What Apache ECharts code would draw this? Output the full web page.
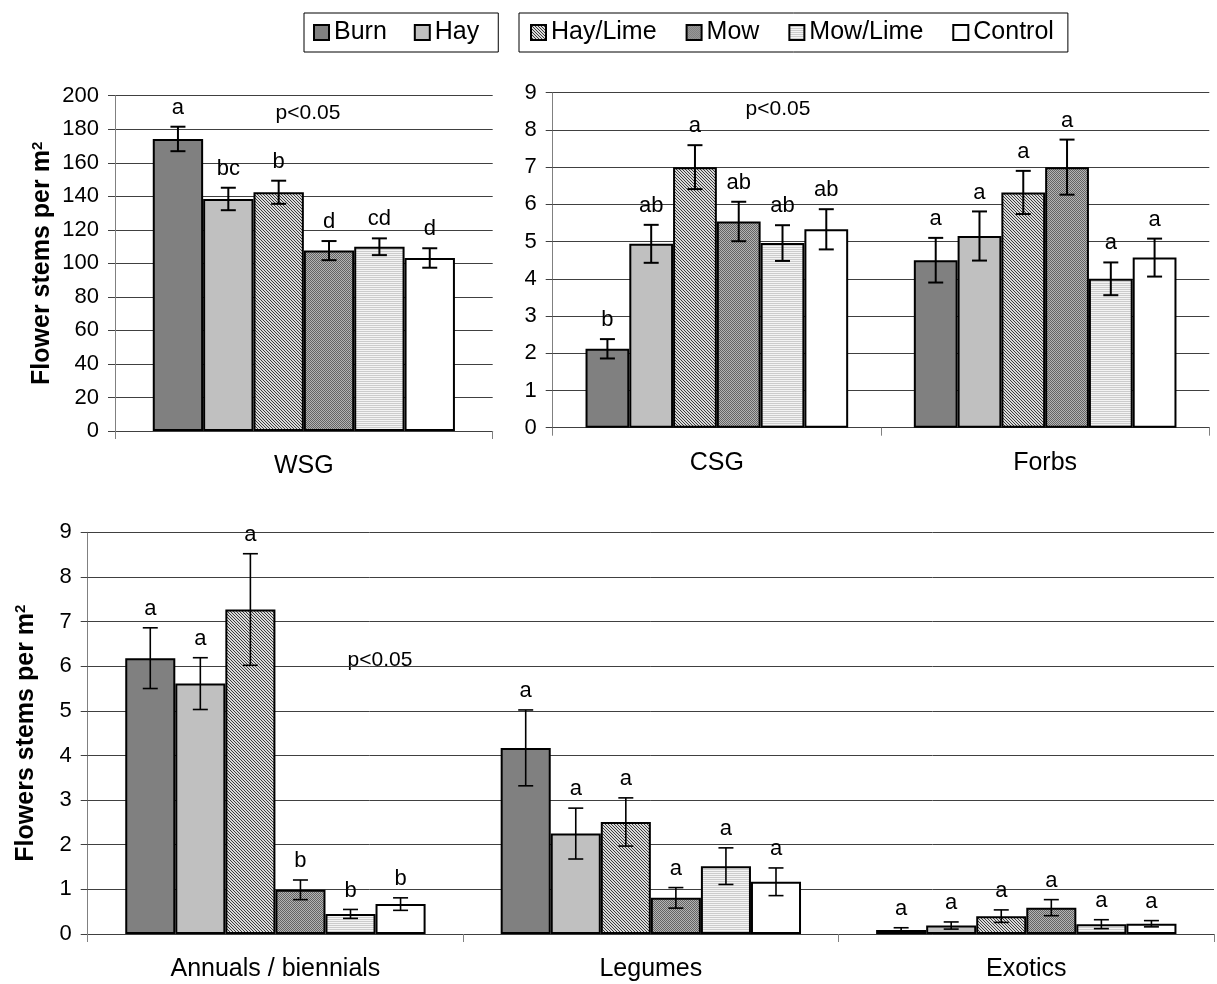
<!DOCTYPE html>
<html>
<head>
<meta charset="utf-8">
<script src="https://cdn.jsdelivr.net/npm/echarts@6/dist/echarts.min.js"></script>
<style>
html,body{margin:0;padding:0;background:#fff;}
#chart{width:1217px;height:984px;}
</style>
</head>
<body>
<div id="chart"></div>
<script>
// ---------- data ----------
const seriesNames = ['Burn', 'Hay', 'Hay/Lime', 'Mow', 'Mow/Lime', 'Control'];

const wsgCategories = ['WSG'];
const wsgMeans   = [174.2, 138.4, 142.4, 107.6, 109.9, 103.2];
const wsgErrors  = [7.3, 6.7, 6.9, 5.7, 5.0, 5.8];
const wsgLetters = ['a', 'bc', 'b', 'd', 'cd', 'd'];

const grassForbCategories = ['CSG', 'Forbs'];
const csgMeans    = [2.12, 4.94, 7.00, 5.54, 4.96, 5.33];
const csgErrors   = [0.26, 0.51, 0.59, 0.53, 0.48, 0.54];
const csgLetters  = ['b', 'ab', 'a', 'ab', 'ab', 'ab'];
const forbsMeans  = [4.50, 5.15, 6.32, 7.00, 4.00, 4.57];
const forbsErrors = [0.60, 0.66, 0.58, 0.74, 0.44, 0.51];
const forbsLetters = ['a', 'a', 'a', 'a', 'a', 'a'];

const lifeFormCategories = ['Annuals / biennials', 'Legumes', 'Exotics'];
const annualsMeans   = [6.18, 5.61, 7.27, 0.99, 0.45, 0.67];
const annualsErrors  = [0.68, 0.58, 1.25, 0.22, 0.10, 0.14];
const annualsLetters = ['a', 'a', 'a', 'b', 'b', 'b'];
const legumesMeans   = [4.17, 2.25, 2.51, 0.81, 1.52, 1.17];
const legumesErrors  = [0.85, 0.57, 0.54, 0.23, 0.41, 0.31];
const legumesLetters = ['a', 'a', 'a', 'a', 'a', 'a'];
const exoticsMeans   = [0.09, 0.19, 0.40, 0.59, 0.22, 0.23];
const exoticsErrors  = [0.05, 0.08, 0.14, 0.18, 0.10, 0.07];
const exoticsLetters = ['a', 'a', 'a', 'a', 'a', 'a'];

const wsgAxisRange   = [0, 200, 20];   // min, max, interval
const countAxisRange = [0, 9, 1];

const yTitleTop    = 'Flower stems per m';
const yTitleBottom = 'Flowers stems per m';
const pText = 'p<0.05';

// ---------- styles ----------
const FONT = '"Liberation Sans", Arial, sans-serif';

function makePattern(w, h, bg, dark, pixels) {
  const c = document.createElement('canvas');
  c.width = w; c.height = h;
  const g = c.getContext('2d');
  g.fillStyle = bg; g.fillRect(0, 0, w, h);
  g.fillStyle = dark;
  pixels.forEach(p => g.fillRect(p[0], p[1], 1, 1));
  return { image: c, repeat: 'repeat' };
}
const fills = [
  '#808080',
  '#c0c0c0',
  makePattern(3, 3, '#dadada', '#3c3c3c', [[0,0],[1,1],[2,2]]),
  makePattern(2, 2, '#b4b4b4', '#646464', [[0,0],[1,1]]),
  makePattern(2, 2, '#f4f4f4', '#cccccc', [[0,1],[1,1]]),
  '#ffffff'
];

const panels = [
  { cats: wsgCategories, means: [wsgMeans], errs: [wsgErrors], letters: [wsgLetters],
    range: wsgAxisRange, grid: { left: 115, top: 95.7, width: 377.7, height: 335.3 },
    name: yTitleTop, nameGap: 60, errWidth: 2 },
  { cats: grassForbCategories, means: [csgMeans, forbsMeans], errs: [csgErrors, forbsErrors],
    letters: [csgLetters, forbsLetters],
    range: countAxisRange, grid: { left: 552.7, top: 92.7, width: 656.6, height: 335 },
    name: null, nameGap: 0, errWidth: 2 },
  { cats: lifeFormCategories, means: [annualsMeans, legumesMeans, exoticsMeans],
    errs: [annualsErrors, legumesErrors, exoticsErrors],
    letters: [annualsLetters, legumesLetters, exoticsLetters],
    range: countAxisRange, grid: { left: 87.7, top: 532.3, width: 1126.3, height: 401.7 },
    name: yTitleBottom, nameGap: 49, errWidth: 1.6 }
];

const grids = [], xAxes = [], yAxes = [], series = [];

panels.forEach((p, gi) => {
  grids.push(Object.assign({ containLabel: false }, p.grid));
  xAxes.push({
    type: 'category', gridIndex: gi, data: p.cats,
    axisLine: { show: true, lineStyle: { color: '#404040', width: 1 } },
    axisTick: { show: true, length: 8, lineStyle: { color: '#808080' } },
    axisLabel: { color: '#000', fontSize: 25, fontFamily: FONT, margin: 23 },
    splitLine: { show: false }
  });
  const y = {
    type: 'value', gridIndex: gi, min: p.range[0], max: p.range[1], interval: p.range[2],
    axisLine: { show: true, lineStyle: { color: '#808080', width: 1 } },
    axisTick: { show: true, length: 7, lineStyle: { color: '#404040' } },
    axisLabel: { color: '#000', fontSize: 22, fontFamily: FONT, margin: 16 },
    splitLine: { show: true, lineStyle: { color: '#404040', width: 1 } }
  };
  if (p.name) {
    y.name = '{t|' + p.name + '}{s|2}';
    y.nameLocation = 'middle';
    y.nameGap = p.nameGap;
    y.nameTextStyle = {
      rich: {
        t: { fontSize: 25, fontWeight: 'bold', fontFamily: FONT, color: '#000' },
        s: { fontSize: 15, fontWeight: 'bold', fontFamily: FONT, color: '#000', verticalAlign: 'top' }
      }
    };
  }
  yAxes.push(y);

  seriesNames.forEach((sn, si) => {
    series.push({
      type: 'bar', name: sn, xAxisIndex: gi, yAxisIndex: gi,
      barGap: '0%', barCategoryGap: '20%',
      data: p.means.map(arr => arr[si]),
      itemStyle: { color: fills[si], borderColor: '#000', borderWidth: 2 },
      emphasis: { disabled: true },
      animation: false
    });
  });

  const errData = [], letterFlat = [];
  p.means.forEach((arr, ci) => {
    arr.forEach((m, si) => {
      errData.push([ci, si, m, p.errs[ci][si]]);
      letterFlat.push(p.letters[ci][si]);
    });
  });
  const lw = p.errWidth;
  series.push({
    type: 'custom', name: 'err' + gi, xAxisIndex: gi, yAxisIndex: gi,
    data: errData, encode: { x: 0, y: 2 }, z: 10, animation: false, silent: true,
    renderItem: function (params, api) {
      const ci = api.value(0), si = api.value(1), m = api.value(2), e = api.value(3);
      const catW = api.size([1, 0])[0];
      const barW = catW * 0.8 / seriesNames.length;
      const x = api.coord([ci, m])[0] + (si - (seriesNames.length - 1) / 2) * barW;
      const top = api.coord([ci, m + e])[1];
      const bot = api.coord([ci, m - e])[1];
      const cap = 7.5;
      const st = { stroke: '#000', lineWidth: lw };
      return {
        type: 'group',
        children: [
          { type: 'line', shape: { x1: x, y1: top, x2: x, y2: bot }, style: st },
          { type: 'line', shape: { x1: x - cap, y1: top, x2: x + cap, y2: top }, style: st },
          { type: 'line', shape: { x1: x - cap, y1: bot, x2: x + cap, y2: bot }, style: st },
          { type: 'text', style: { text: letterFlat[params.dataIndex], x: x, y: top - 19,
              align: 'center', verticalAlign: 'middle', fill: '#000',
              font: '22px ' + FONT } }
        ]
      };
    }
  });
});

const legendBase = {
  top: 13, orient: 'horizontal', icon: 'rect',
  itemWidth: 15, itemHeight: 15,
  borderColor: '#000', borderWidth: 1, backgroundColor: '#fff',
  textStyle: { fontSize: 25, color: '#000', fontFamily: FONT },
  itemStyle: { borderColor: '#000', borderWidth: 2 },
  selectedMode: false
};

const option = {
  backgroundColor: '#fff',
  animation: false,
  grid: grids, xAxis: xAxes, yAxis: yAxes, series: series,
  legend: [
    Object.assign({}, legendBase, { left: 304, data: seriesNames.slice(0, 2), itemGap: 27, padding: [7, 19, 7, 9] }),
    Object.assign({}, legendBase, { left: 519, data: seriesNames.slice(2), itemGap: 29, padding: [7, 14, 7, 11] })
  ],
  graphic: [
    { type: 'text', x: 308, y: 113, style: { text: pText, font: '21px ' + FONT, fill: '#000', align: 'center', verticalAlign: 'middle' } },
    { type: 'text', x: 778, y: 109, style: { text: pText, font: '21px ' + FONT, fill: '#000', align: 'center', verticalAlign: 'middle' } },
    { type: 'text', x: 380, y: 660, style: { text: pText, font: '21px ' + FONT, fill: '#000', align: 'center', verticalAlign: 'middle' } }
  ]
};

const chart = echarts.init(document.getElementById('chart'), null, { renderer: 'canvas' });
chart.setOption(option);
</script>
</body>
</html>
